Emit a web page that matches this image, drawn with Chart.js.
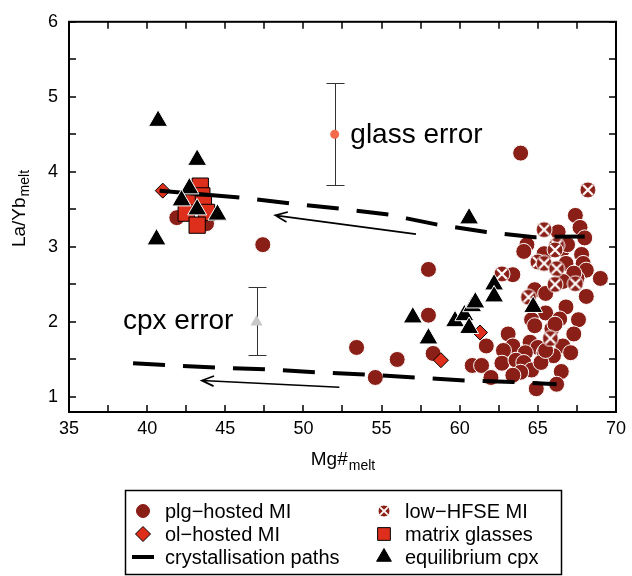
<!DOCTYPE html>
<html lang="en">
<head>
    <meta charset="UTF-8">
    <title>La/Yb melt vs Mg# melt</title>
    <script src="https://cdn.jsdelivr.net/npm/chart.js@4/dist/chart.umd.min.js"></script>
    <style>
        body { margin: 0; background: #fff; }
    </style>
</head>
<body>
    <canvas id="grafica" width="632" height="576"></canvas>

    <script>
        // ejes
        const ejeX = [35, 40, 45, 50, 55, 60, 65, 70];
        const ejeY = [1, 2, 3, 4, 5, 6];
        const menoresX = [35, 37.5, 40, 42.5, 45, 47.5, 50, 52.5, 55, 57.5, 60, 62.5, 65, 67.5, 70];
        const menoresY = [1, 1.5, 2, 2.5, 3, 3.5, 4, 4.5, 5, 5.5, 6];

        // datos [Mg#, La/Yb]
        const plgHosted = [
            [41.9, 3.39], [43.8, 3.31], [47.4, 3.03],
            [53.4, 1.66], [54.6, 1.26], [56.0, 1.50], [58.0, 2.70], [58.0, 2.09], [58.3, 1.58],
            [60.8, 1.42], [61.4, 1.42], [61.7, 1.68], [62.0, 1.26],
            [63.9, 4.25], [67.4, 3.42], [67.7, 3.26], [68.0, 3.12], [66.3, 3.20], [64.3, 3.03],
            [64.1, 2.94], [66.6, 2.97], [66.9, 3.03], [67.8, 2.90], [65.4, 2.91], [66.8, 2.78],
            [67.9, 2.78], [68.1, 2.69], [63.4, 2.63], [69.0, 2.58], [67.5, 2.58], [67.3, 2.65],
            [66.6, 2.54], [64.8, 2.43], [65.5, 2.38], [68.1, 2.34], [65.5, 2.12], [66.8, 2.20],
            [64.6, 2.03], [66.4, 2.04], [67.6, 2.03], [65.9, 1.91], [67.3, 1.84], [63.1, 1.84],
            [64.8, 1.95], [66.1, 1.97], [63.4, 1.68], [64.5, 1.73], [65.0, 1.66], [66.6, 1.68],
            [67.1, 1.59], [62.8, 1.62], [64.2, 1.59], [65.4, 1.59], [66.0, 1.55], [62.7, 1.45],
            [63.6, 1.49], [64.1, 1.46], [64.6, 1.36], [65.2, 1.46], [66.5, 1.34], [63.9, 1.33],
            [63.4, 1.29], [66.2, 1.17], [64.9, 1.11], [65.5, 1.62]
        ];
        const lowHfse = [
            [68.2, 3.76], [65.4, 3.23], [66.2, 3.02], [66.1, 2.96], [65.0, 2.80], [65.4, 2.78],
            [66.2, 2.71], [62.7, 2.64], [66.1, 2.50], [67.4, 2.51], [64.4, 2.33], [65.8, 1.78]
        ];
        const olHosted = [[41.0, 3.75], [61.3, 1.86], [58.8, 1.49]];
        const vidrioMatriz = [[43.4, 3.81], [43.5, 3.68], [43.0, 3.60], [43.6, 3.57], [42.5, 3.45], [43.8, 3.46], [43.2, 3.29]];
        const cpxEquilibrio = [
            [40.7, 4.68], [43.2, 4.16], [40.6, 3.10], [42.7, 3.78], [42.2, 3.62], [43.2, 3.50],
            [44.5, 3.43], [60.6, 3.38], [57.0, 2.06], [58.0, 1.78], [59.7, 2.01], [60.3, 2.09],
            [60.8, 2.21], [61.0, 2.26], [60.6, 1.92], [62.2, 2.50], [62.2, 2.34], [64.7, 2.20]
        ];
        // trayectorias de cristalizacion
        const trayectoSup = [[40.8, 3.75], [45.9, 3.66], [49.1, 3.58], [52.3, 3.51], [55.5, 3.43], [56.6, 3.38], [58.5, 3.30], [61.7, 3.20], [64.8, 3.13], [68.0, 3.14]];
        const trayectoInf = [[39.1, 1.45], [44.5, 1.39], [47.6, 1.37], [50.8, 1.33], [53.9, 1.30], [57.1, 1.26], [60.3, 1.22], [63.4, 1.20], [66.2, 1.17]];
        // flechas [x0, y0, x1, y1] (punta en x1, y1)
        const flechas = [[57.2, 3.17, 48.2, 3.42], [52.3, 1.13, 43.5, 1.22]];
        // barras de error
        const errorVidrio = { x: 52, y: 4.5, min: 3.83, max: 5.18, texto: 'glass error', tx: 53.0, ty: 4.49 };
        const errorCpx = { x: 47, y: 2.0, min: 1.56, max: 2.46, texto: 'cpx error', tx: 38.45, ty: 2.01 };

        const fuente = '"Liberation Sans", Arial, Helvetica, sans-serif';
        const rojoOscuro = '#8a1f17';
        const rojo = '#de2e1c';

        function aPuntos(lista) {
            return lista.map(p => ({ x: p[0], y: p[1] }));
        }

        // circulo con cruz blanca (low-HFSE)
        function marcaHfse(r) {
            const c = document.createElement('canvas');
            const s = 2 * r + 2;
            c.width = s; c.height = s;
            const g = c.getContext('2d');
            const m = s / 2;
            g.fillStyle = rojoOscuro;
            g.strokeStyle = '#fff';
            g.lineWidth = 1;
            g.beginPath(); g.arc(m, m, r, 0, Math.PI * 2); g.fill(); g.stroke();
            const d = r * 0.62;
            g.lineWidth = r > 7 ? 2.2 : 1.8;
            g.beginPath();
            g.moveTo(m - d, m - d); g.lineTo(m + d, m + d);
            g.moveTo(m + d, m - d); g.lineTo(m - d, m + d);
            g.stroke();
            return c;
        }
        const hfseGrande = marcaHfse(8);
        const hfseChico = marcaHfse(6);

        const leyenda = [
            { texto: 'plg−hosted MI', col: 0, fila: 0, estilo: 'circle', r: 6.5, fondo: rojoOscuro, borde: rojoOscuro },
            { texto: 'ol−hosted MI', col: 0, fila: 1, estilo: 'rectRot', r: 7.5, fondo: rojo, borde: '#000' },
            { texto: 'crystallisation paths', col: 0, fila: 2, estilo: 'linea' },
            { texto: 'low−HFSE MI', col: 1, fila: 0, estilo: hfseChico },
            { texto: 'matrix glasses', col: 1, fila: 1, estilo: 'rect', r: 9, fondo: rojo, borde: '#000' },
            { texto: 'equilibrium cpx', col: 1, fila: 2, estilo: 'triangle', r: 8.5, fondo: '#000', borde: '#000' }
        ];

        const adornos = {
            id: 'adornos',
            beforeDatasetsDraw(chart) {
                const { ctx, scales: { x, y } } = chart;
                ctx.save();
                ctx.strokeStyle = '#333';
                ctx.lineWidth = 1;
                [errorVidrio, errorCpx].forEach(e => {
                    const px = Math.round(x.getPixelForValue(e.x)) + 0.5;
                    const y1 = Math.round(y.getPixelForValue(e.min)) + 0.5;
                    const y2 = Math.round(y.getPixelForValue(e.max)) + 0.5;
                    ctx.beginPath();
                    ctx.moveTo(px, y1); ctx.lineTo(px, y2);
                    ctx.moveTo(px - 9, y1); ctx.lineTo(px + 9, y1);
                    ctx.moveTo(px - 9, y2); ctx.lineTo(px + 9, y2);
                    ctx.stroke();
                });
                ctx.strokeStyle = '#000';
                ctx.lineWidth = 1.7;
                flechas.forEach(f => {
                    const x0 = x.getPixelForValue(f[0]), y0 = y.getPixelForValue(f[1]);
                    const x1 = x.getPixelForValue(f[2]), y1 = y.getPixelForValue(f[3]);
                    const ang = Math.atan2(y1 - y0, x1 - x0);
                    ctx.beginPath();
                    ctx.moveTo(x0, y0); ctx.lineTo(x1, y1);
                    ctx.moveTo(x1 - 13 * Math.cos(ang - 0.4), y1 - 13 * Math.sin(ang - 0.4));
                    ctx.lineTo(x1, y1);
                    ctx.lineTo(x1 - 13 * Math.cos(ang + 0.4), y1 - 13 * Math.sin(ang + 0.4));
                    ctx.stroke();
                });
                ctx.restore();
            },
            afterDraw(chart) {
                const { ctx, chartArea: a, scales: { x, y } } = chart;
                ctx.save();
                // marco y marcas hacia dentro
                ctx.strokeStyle = '#000';
                ctx.lineWidth = 2;
                ctx.strokeRect(a.left, a.top, a.right - a.left, a.bottom - a.top);
                ctx.lineWidth = 1.5;
                ctx.beginPath();
                menoresX.forEach(v => {
                    const p = Math.round(x.getPixelForValue(v));
                    ctx.moveTo(p, a.bottom); ctx.lineTo(p, a.bottom - 7);
                    ctx.moveTo(p, a.top); ctx.lineTo(p, a.top + 7);
                });
                menoresY.forEach(v => {
                    const p = Math.round(y.getPixelForValue(v));
                    ctx.moveTo(a.left, p); ctx.lineTo(a.left + 7, p);
                    ctx.moveTo(a.right, p); ctx.lineTo(a.right - 7, p);
                });
                ctx.stroke();

                // textos de error
                ctx.fillStyle = '#000';
                ctx.font = '28px ' + fuente;
                ctx.textBaseline = 'middle';
                ctx.textAlign = 'left';
                [errorVidrio, errorCpx].forEach(e => {
                    ctx.fillText(e.texto, x.getPixelForValue(e.tx), y.getPixelForValue(e.ty));
                });

                // titulos con subindice
                ctx.textBaseline = 'alphabetic';
                ctx.font = '19px ' + fuente;
                const w1 = ctx.measureText('Mg#').width;
                ctx.font = '14px ' + fuente;
                const w2 = ctx.measureText('melt').width;
                const cx = (a.left + a.right) / 2;
                ctx.font = '19px ' + fuente;
                ctx.fillText('Mg#', cx - (w1 + w2) / 2, 465);
                ctx.font = '14px ' + fuente;
                ctx.fillText('melt', cx - (w1 + w2) / 2 + w1 + 1, 470);

                ctx.font = '19px ' + fuente;
                const v1 = ctx.measureText('La/Yb').width;
                ctx.font = '14px ' + fuente;
                const v2 = ctx.measureText('melt').width;
                ctx.save();
                ctx.translate(25, 209);
                ctx.rotate(-Math.PI / 2);
                ctx.font = '19px ' + fuente;
                ctx.fillText('La/Yb', -(v1 + v2) / 2, 0);
                ctx.font = '14px ' + fuente;
                ctx.fillText('melt', -(v1 + v2) / 2 + v1 + 1, 4);
                ctx.restore();

                // leyenda
                ctx.lineWidth = 1.5;
                ctx.strokeRect(125.5, 490.5, 436, 84);
                ctx.font = '20px ' + fuente;
                ctx.textBaseline = 'middle';
                leyenda.forEach(it => {
                    const mx = it.col === 0 ? 143 : 384;
                    const tx = it.col === 0 ? 165 : 405;
                    const my = 511 + it.fila * 23;
                    if (it.estilo === 'linea') {
                        ctx.lineWidth = 4;
                        ctx.beginPath();
                        ctx.moveTo(132, my); ctx.lineTo(154, my);
                        ctx.stroke();
                    } else {
                        ctx.fillStyle = it.fondo || '#000';
                        ctx.strokeStyle = it.borde || '#000';
                        ctx.lineWidth = 1;
                        Chart.helpers.drawPoint(ctx, { pointStyle: it.estilo, radius: it.r || 6, rotation: 0, borderWidth: 1 }, mx, my);
                    }
                    ctx.fillStyle = '#000';
                    ctx.strokeStyle = '#000';
                    ctx.fillText(it.texto, tx, my + 1);
                });
                ctx.restore();
            }
        };

        const grafica = new Chart(document.getElementById('grafica'), {
            type: 'scatter',
            data: {
                datasets: [
                    {
                        label: 'equilibrium cpx', data: aPuntos(cpxEquilibrio),
                        pointStyle: 'triangle', pointRadius: 11,
                        backgroundColor: '#000', borderColor: '#fff', borderWidth: 1
                    },
                    {
                        label: 'crystallisation paths', data: aPuntos(trayectoSup),
                        showLine: true, pointRadius: 0, borderColor: '#000', borderWidth: 4,
                        borderDash: [32, 18],
                        segment: {
                            borderDash: c => c.p0DataIndex === 0 ? [] : [32, 18],
                            borderDashOffset: c => c.p0DataIndex === 0 ? 0 : 32
                        }
                    },
                    {
                        label: 'crystallisation paths 2', data: aPuntos(trayectoInf),
                        showLine: true, pointRadius: 0, borderColor: '#000', borderWidth: 4,
                        borderDash: [32, 18]
                    },
                    {
                        label: 'cpx error', data: [{ x: errorCpx.x, y: errorCpx.y }],
                        pointStyle: 'triangle', pointRadius: 7,
                        backgroundColor: '#c8c8c8', borderColor: '#c8c8c8', borderWidth: 0
                    },
                    {
                        label: 'glass error', data: [{ x: errorVidrio.x, y: errorVidrio.y }],
                        pointStyle: 'circle', pointRadius: 4.5,
                        backgroundColor: '#f4694a', borderColor: '#f4694a', borderWidth: 0
                    },
                    {
                        label: 'matrix glasses', data: aPuntos(vidrioMatriz),
                        pointStyle: 'rect', pointRadius: 11.5,
                        backgroundColor: rojo, borderColor: '#000', borderWidth: 1
                    },
                    {
                        label: 'ol-hosted MI', data: aPuntos(olHosted),
                        pointStyle: 'rectRot', pointRadius: 7.5,
                        backgroundColor: rojo, borderColor: '#000', borderWidth: 1
                    },
                    {
                        label: 'low-HFSE MI', data: aPuntos(lowHfse),
                        pointStyle: hfseGrande, pointRadius: 8
                    },
                    {
                        label: 'plg-hosted MI', data: aPuntos(plgHosted),
                        pointStyle: 'circle', pointRadius: 8,
                        backgroundColor: rojoOscuro, borderColor: '#fff', borderWidth: 1
                    }
                ]
            },
            options: {
                responsive: false,
                animation: false,
                devicePixelRatio: 1,
                events: [],
                layout: { padding: { top: 17, right: 12, bottom: 124, left: 0 } },
                plugins: { legend: { display: false }, tooltip: { enabled: false } },
                scales: {
                    x: {
                        type: 'linear', min: 35, max: 70,
                        grid: { display: false, drawTicks: false },
                        border: { display: false },
                        afterBuildTicks: s => { s.ticks = ejeX.map(v => ({ value: v })); },
                        afterFit: s => { s.height = 40; },
                        ticks: { color: '#000', font: { family: fuente, size: 18 }, padding: 6, autoSkip: false, maxRotation: 0 }
                    },
                    y: {
                        type: 'linear', min: 0.8, max: 6,
                        grid: { display: false, drawTicks: false },
                        border: { display: false },
                        afterBuildTicks: s => { s.ticks = ejeY.map(v => ({ value: v })); },
                        afterFit: s => { s.width = 69; },
                        ticks: { color: '#000', font: { family: fuente, size: 18 }, padding: 11, autoSkip: false }
                    }
                }
            },
            plugins: [adornos]
        });
    </script>
</body>
</html>
